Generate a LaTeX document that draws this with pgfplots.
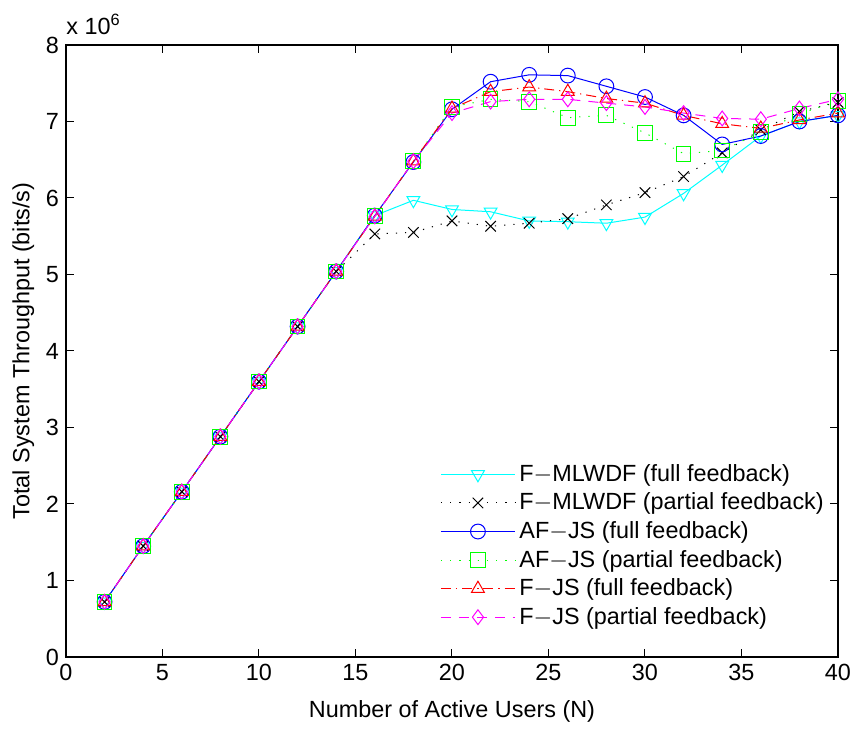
\documentclass[border=0pt]{standalone}
\usepackage{fontspec}
\setmainfont{Liberation Sans}
\usepackage{pgfplots}
\pgfplotsset{compat=1.18}
\definecolor{mcyan}{rgb}{0,1,1}
\definecolor{mgreen}{rgb}{0,1,0}
\definecolor{mblue}{rgb}{0,0,1}
\definecolor{mred}{rgb}{1,0,0}
\definecolor{mmag}{rgb}{1,0,1}
\begin{document}
\begin{tikzpicture}
\begin{axis}[
  scale only axis,
  width=386pt, height=306pt,
  xmin=0, xmax=40, ymin=0, ymax=8,
  xtick={0,5,...,40}, ytick={0,1,...,8},
  tick align=inside,
  tick style={black, line width=0.5pt},
  major tick length=4pt,
  axis line style={line width=0.6pt},
  /pgf/number format/assume math mode=true,
  tick label style={font=\fontsize{11.7}{13}\selectfont},
  label style={font=\fontsize{11.7}{13}\selectfont},
  xlabel={Number of Active Users (N)},
  ylabel={Total System Throughput (bits/s)},
  xlabel style={yshift=-3pt},
  ylabel style={yshift=-1pt},
  legend style={draw=none, fill=none, at={(0.995,0.035)}, anchor=south east,
    font=\fontsize{11.7}{13}\selectfont, row sep=0.3pt},
  legend cell align=left,
  legend image code/.code={
    \draw[mark repeat=2,mark phase=2] plot coordinates {(0cm,0cm) (0.65cm,0cm) (1.3cm,0cm)};
  },
  mark size=3.7pt,
  every axis plot/.append style={line width=0.5pt},
  clip=false,
]
\addplot[mcyan, solid, mark=triangle, mark options={rotate=180, solid}] coordinates {
(2,0.72)(4,1.45)(6,2.16)(8,2.88)(10,3.60)(12,4.32)(14,5.04)(16,5.77)(18,5.97)(20,5.85)(22,5.82)(24,5.70)(26,5.69)(28,5.67)(30,5.75)(32,6.06)(34,6.43)(36,6.81)(38,7.00)(40,7.08)};
\addlegendentry{F$-$MLWDF (full feedback)}
\addplot[black, dash pattern=on 0.6pt off 4pt, mark=x, mark options={solid}] coordinates {
(2,0.72)(4,1.45)(6,2.16)(8,2.88)(10,3.60)(12,4.32)(14,5.04)(16,5.53)(18,5.55)(20,5.70)(22,5.63)(24,5.67)(26,5.73)(28,5.91)(30,6.07)(32,6.28)(34,6.59)(36,6.89)(38,7.13)(40,7.25)};
\addlegendentry{F$-$MLWDF (partial feedback)}
\addplot[mblue, solid, mark=o, mark options={solid}] coordinates {
(2,0.72)(4,1.45)(6,2.16)(8,2.88)(10,3.60)(12,4.32)(14,5.04)(16,5.77)(18,6.47)(20,7.16)(22,7.52)(24,7.61)(26,7.60)(28,7.46)(30,7.32)(32,7.08)(34,6.70)(36,6.81)(38,7.00)(40,7.08)};
\addlegendentry{AF$-$JS (full feedback)}
\addplot[mgreen, dash pattern=on 0.6pt off 4pt, mark=square, mark options={solid}] coordinates {
(2,0.72)(4,1.45)(6,2.16)(8,2.88)(10,3.60)(12,4.32)(14,5.04)(16,5.76)(18,6.48)(20,7.19)(22,7.29)(24,7.26)(26,7.05)(28,7.08)(30,6.85)(32,6.58)(34,6.62)(36,6.86)(38,7.10)(40,7.27)};
\addlegendentry{AF$-$JS (partial feedback)}
\addplot[mred, dash pattern=on 5pt off 2.5pt on 0.6pt off 2.5pt, mark=triangle, mark options={solid}] coordinates {
(2,0.72)(4,1.45)(6,2.16)(8,2.88)(10,3.60)(12,4.32)(14,5.04)(16,5.76)(18,6.48)(20,7.17)(22,7.39)(24,7.45)(26,7.39)(28,7.30)(30,7.24)(32,7.08)(34,6.97)(36,6.91)(38,7.02)(40,7.11)};
\addlegendentry{F$-$JS (full feedback)}
\addplot[mmag, dash pattern=on 5pt off 4pt, mark=diamond, mark options={solid}] coordinates {
(2,0.72)(4,1.45)(6,2.16)(8,2.88)(10,3.60)(12,4.32)(14,5.04)(16,5.76)(18,6.48)(20,7.11)(22,7.26)(24,7.29)(26,7.29)(28,7.24)(30,7.19)(32,7.11)(34,7.04)(36,7.03)(38,7.17)(40,7.29)};
\addlegendentry{F$-$JS (partial feedback)}
\node[anchor=south west, font=\fontsize{11.7}{13}\selectfont, inner sep=0pt] at (rel axis cs:0,1) [yshift=5pt] {x 10\textsuperscript{6}};
\path (rel axis cs:0,1) ++(-33pt,22.5pt) coordinate (tl);
\path (rel axis cs:1,0) ++(10pt,-32.5pt) coordinate (br);
\end{axis}
\end{tikzpicture}
\end{document}
